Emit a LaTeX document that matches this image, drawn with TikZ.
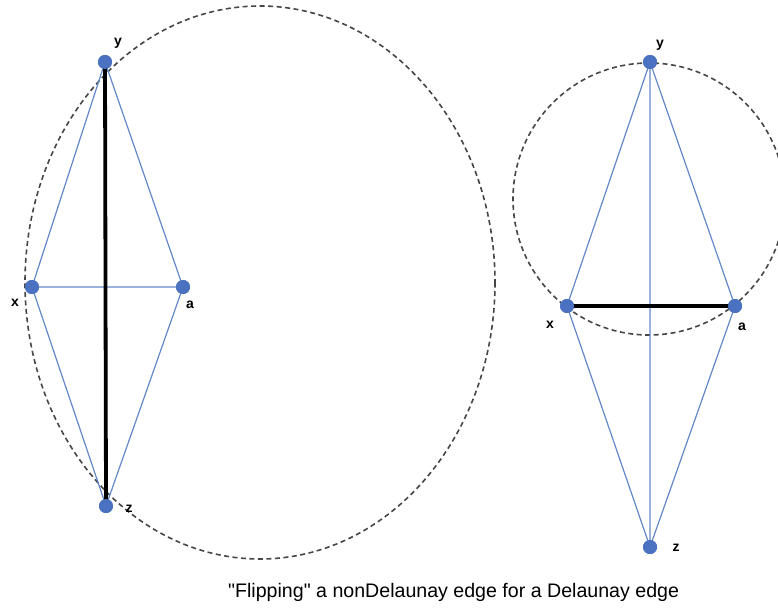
\documentclass[tikz,border=0pt]{standalone}
\usepackage{fontspec}
\setmainfont{Liberation Sans}[Ligatures=TeXOff]
\begin{document}
\begin{tikzpicture}[x=1pt,y=-1pt,
  pt/.style={circle,fill=ptblue,minimum size=14pt,inner sep=0pt},
  edge/.style={draw=lineblue,line width=1.2pt},
  flip/.style={draw=black,line width=3.8pt},
  circ/.style={draw=gray!55!black,line width=1.6pt,dash pattern=on 5pt off 3.5pt},
  lab/.style={font=\bfseries\fontsize{14}{15}\selectfont,inner sep=0pt}]
\definecolor{ptblue}{HTML}{4A72C0}
\definecolor{lineblue}{HTML}{6487C8}
\useasboundingbox (0,0) rectangle (778,607);
\begin{scope}
\clip (0,0) rectangle (778,607);
\draw[circ] (260,282.5) ellipse [x radius=235, y radius=276.5];
\draw[circ] (649,199) circle [radius=136];
\end{scope}
% left points
\node[pt] (y1) at (105,62) {};
\node[pt] (x1) at (32,287) {};
\node[pt] (a1) at (183,287) {};
\node[pt] (z1) at (106,506) {};
% right points
\node[pt] (y2) at (650,62) {};
\node[pt] (x2) at (567,306) {};
\node[pt] (a2) at (735,306) {};
\node[pt] (z2) at (650,547) {};
% edges left
\path[edge] (y1.center) -- (x1.center) (y1.center) -- (a1.center) (x1.center) -- (a1.center)
  (x1.center) -- (z1.center) (a1.center) -- (z1.center);
\path[flip] (y1.center) -- (z1.center);
% edges right
\path[edge] (y2.center) -- (x2.center) (y2.center) -- (a2.center) (y2.center) -- (z2.center)
  (x2.center) -- (z2.center) (a2.center) -- (z2.center);
\path[flip] (x2.center) -- (a2.center);
% points on top
\foreach \p in {y1,x1,a1,z1,y2,x2,a2,z2}{\fill[ptblue] (\p) circle [radius=7pt];}
% labels
\node[lab] (ly1) at (118,43) {y};
\node[lab] (lx1) at (15,303) {x};
\node[lab] (la1) at (190,305) {a};
\node[lab] (lz1) at (129,509) {z};
\node[lab] (ly2) at (660,45) {y};
\node[lab] (lx2) at (550,325) {x};
\node[lab] (la2) at (742,327) {a};
\node[lab] (lz2) at (676,548) {z};
% caption
\node[font=\fontsize{19.6}{22}\selectfont,anchor=west,inner sep=0pt] (cap) at (228,592) {"Flipping" a nonDelaunay edge for a Delaunay edge};
\end{tikzpicture}
\end{document}
